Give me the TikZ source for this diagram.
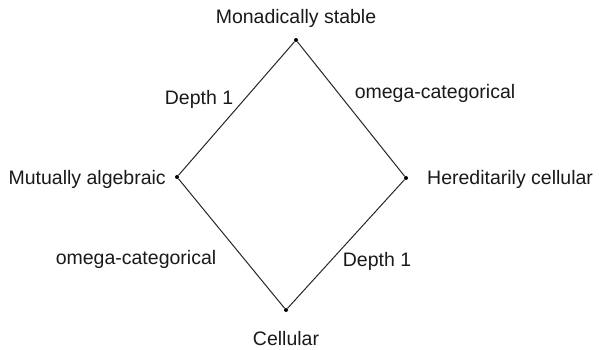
\documentclass[tikz,border=0pt]{standalone}
\usepackage{fontspec}
\setmainfont{Liberation Sans}
\begin{document}
\begin{tikzpicture}[x=1pt,y=1pt,
  vtx/.style={circle,fill=black,inner sep=0pt,minimum size=4pt},
  lbl/.style={inner sep=0pt,font=\fontsize{19.5}{22}\selectfont,text=black!90},
  edge/.style={draw=black!85,line width=1pt}]
\useasboundingbox (0,0) rectangle (599,350);
\node[vtx] (T) at (296,310) {};
\node[vtx] (L) at (177,173) {};
\node[vtx] (R) at (406,172) {};
\node[vtx] (B) at (286,40) {};
\draw[edge] (T) -- (L);
\draw[edge] (T) -- (R);
\draw[edge] (L) -- (B);
\draw[edge] (R) -- (B);
\node[lbl,anchor=base] (tT) at (296,326) {Monadically stable};
\node[lbl,anchor=base east] (tL) at (166,165) {Mutually algebraic};
\node[lbl,anchor=base west] (tR) at (427,165) {Hereditarily cellular};
\node[lbl,anchor=base] (tB) at (286,4) {Cellular};
\node[lbl,anchor=base] (e1) at (199,245) {Depth 1};
\node[lbl,anchor=base] (e2) at (435,251) {omega-categorical};
\node[lbl,anchor=base] (e3) at (136,85) {omega-categorical};
\node[lbl,anchor=base] (e4) at (377,83) {Depth 1};
\end{tikzpicture}
\end{document}
